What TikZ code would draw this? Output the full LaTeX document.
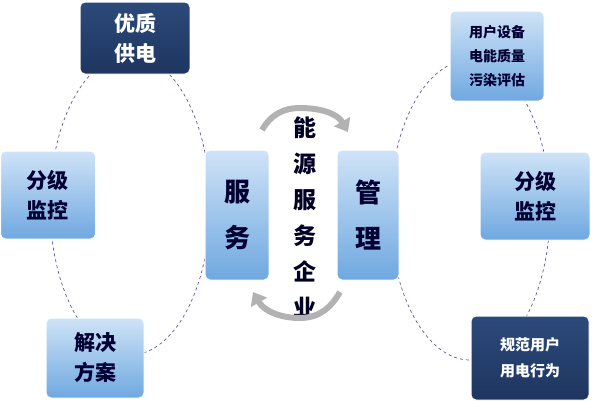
\documentclass[tikz,border=0pt]{standalone}
\usepackage{fontspec}
\newfontfamily\cjk{Noto Sans CJK SC}
\usetikzlibrary{arrows.meta}
\definecolor{navy}{HTML}{2C4A7A}
\definecolor{navyb}{HTML}{1E3560}
\definecolor{lbt}{HTML}{CFE3F7}
\definecolor{lbb}{HTML}{6FA8E0}
\begin{document}
\begin{tikzpicture}[x=1pt,y=-1pt,
 lb/.style={rounded corners=5pt,draw=white,line width=1pt,top color=lbt,bottom color=lbb,font=\cjk\bfseries\fontsize{21}{30}\selectfont,text=black!80!blue,align=center},
 db/.style={rounded corners=5pt,draw=white,line width=1pt,top color=navy,bottom color=navyb,font=\cjk\bfseries\fontsize{21}{30}\selectfont,text=white,align=center},
 dl/.style={dashed,draw=gray!70!blue,line width=0.7pt},
 ga/.style={draw=gray!60,line width=6pt,-{Triangle[length=12pt,width=18pt]}}]
\useasboundingbox (0,0) rectangle (600,400);
\fill[white] (0,0) rectangle (600,400);
\draw[dl] (130,205) ellipse [x radius=80, y radius=150];
\draw[dl] (470,210) ellipse [x radius=80, y radius=150];
\node[db,minimum width=110,minimum height=72] (a) at (135,38) {优质\\供电};
\node[lb,minimum width=95,minimum height=88] (b) at (48,195) {分级\\监控};
\node[lb,minimum width=98,minimum height=80] (c) at (95,358) {解决\\方案};
\node[lb,minimum width=94,minimum height=90,font=\cjk\bfseries\fontsize{14}{24}\selectfont] (d) at (497,56) {用户设备\\电能质量\\污染评估};
\node[lb,minimum width=110,minimum height=88] (e) at (535,196) {分级\\监控};
\node[db,minimum width=118,minimum height=84,font=\cjk\bfseries\fontsize{15}{26}\selectfont] (f) at (530,358) {规范用户\\用电行为};
\node[lb,minimum width=64,minimum height=130,font=\cjk\bfseries\fontsize{26}{46}\selectfont] (s) at (237,215) {服\\务};
\node[lb,minimum width=62,minimum height=130,font=\cjk\bfseries\fontsize{26}{46}\selectfont] (m) at (368,215) {管\\理};
\node[font=\cjk\bfseries\fontsize{23}{36}\selectfont,align=center,text=black!85!blue] (t) at (305,217) {能\\源\\服\\务\\企\\业};
\draw[ga] (262,130) to[out=60,in=180] (300,108) to[out=0,in=120] (348,132);
\draw[ga] (340,292) to[out=-120,in=0] (300,318) to[out=180,in=-60] (253,292);
\end{tikzpicture}
\end{document}
